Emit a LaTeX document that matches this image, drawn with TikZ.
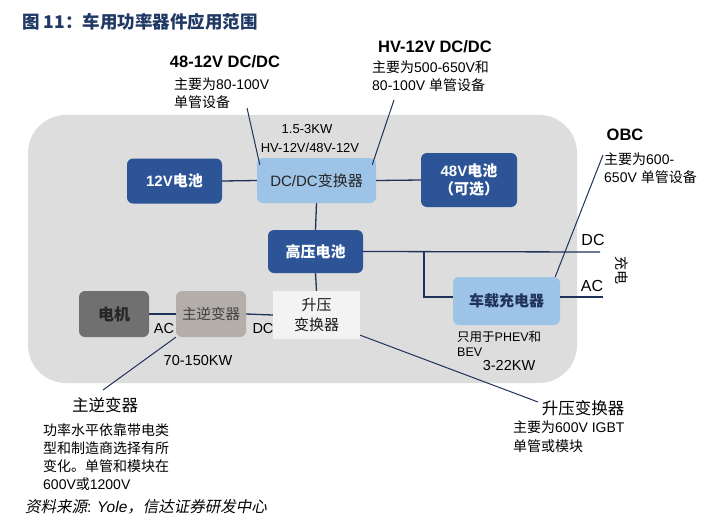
\documentclass[tikz,border=0pt]{standalone}
\usepackage{fontspec}
\setmainfont{Liberation Sans}
\newfontfamily\cjk{Noto Sans CJK SC}
\newfontfamily\cjkit{Noto Sans CJK SC}[FakeSlant=0.2]
\newcommand{\zh}[1]{{\cjk #1}}
\usetikzlibrary{calc}

\definecolor{boxblue}{RGB}{44,84,150}
\definecolor{lightblue}{RGB}{157,195,230}
\definecolor{bggray}{RGB}{221,221,221}
\definecolor{motorgray}{RGB}{112,112,112}
\definecolor{invgray}{RGB}{180,174,170}
\definecolor{boostwhite}{RGB}{243,243,243}
\definecolor{linecol}{RGB}{31,50,90}
\definecolor{titleblue}{RGB}{31,56,100}

\begin{document}
\begin{tikzpicture}[x=1pt, y=-1pt,
      conn/.style={draw=linecol, line width=1.3pt},
      note/.style={draw=linecol, line width=1pt},
      darkbox/.style={rectangle, rounded corners=6pt, fill=boxblue, text=white, align=center, inner sep=0pt, font=\fontsize{15}{18}\selectfont\bfseries},
      lightbox/.style={rectangle, rounded corners=6pt, fill=lightblue, text=black!85, align=center, inner sep=0pt, font=\fontsize{15}{18}\selectfont},
      body/.style={inner sep=0pt, align=left, anchor=north west, font=\fontsize{14}{18}\selectfont},
      head/.style={inner sep=0pt, font=\fontsize{16.5}{19}\selectfont\bfseries},
      lbl/.style={inner sep=0pt, font=\fontsize{14.5}{17}\selectfont}]

      \useasboundingbox (0,0) rectangle (718,523);
      \fill[white] (0,0) rectangle (718,523);

      % title
      \node[anchor=west, inner sep=0pt, text=titleblue, font=\fontsize{17.5}{20}\selectfont\bfseries\cjk] (title) at (22,22) {图 11：车用功率器件应用范围};

      % gray panel
      \fill[bggray, rounded corners=38pt] (28,115) rectangle (577,383);

      % blocks
      \node[darkbox, minimum width=95pt, minimum height=45pt] (bat12) at (174.5,181) {12V\zh{电池}};
      \node[lightbox, minimum width=119pt, minimum height=45pt] (dcdc) at (316.5,180.5) {DC/DC\zh{变换器}};
      \node[darkbox, minimum width=96pt, minimum height=54pt] (bat48) at (469,180) {48V\zh{电池}\\\zh{（可选）}};
      \node[darkbox, minimum width=95pt, minimum height=43pt] (hvbat) at (315.5,251.5) {\zh{高压电池}};
      \node[lightbox, minimum width=107pt, minimum height=48pt, text=linecol, font=\fontsize{15}{18}\selectfont\bfseries] (obc) at (506.5,301) {\zh{车载充电器}};
      \node[rectangle, rounded corners=6pt, fill=motorgray, text=black!85, inner sep=0pt, minimum width=70pt, minimum height=46pt, font=\fontsize{16}{18}\selectfont\bfseries] (motor) at (114,314) {\zh{电机}};
      \node[rectangle, rounded corners=6pt, fill=invgray, text=black!75, inner sep=0pt, minimum width=70pt, minimum height=46pt, font=\fontsize{14.5}{18}\selectfont] (inv) at (211,314) {\zh{主逆变器}};
      \node[rectangle, fill=boostwhite, text=black!90, align=center, inner sep=0pt, minimum width=87pt, minimum height=48pt, font=\fontsize{15}{20}\selectfont] (boost) at (316.5,315) {\zh{升压}\\\zh{变换器}};

      % connectors
      \draw[conn] (bat12.east) -- (dcdc.west);
      \draw[conn] (dcdc.east) -- (bat48.west);
      \draw[conn] (dcdc.south) -- (hvbat.north);
      \draw[conn] (hvbat.south) -- (boost.north);
      \draw[conn] (motor.east) -- (inv.west);
      \draw[conn] (inv.east) -- (boost.west);
      \coordinate (dcend) at (600,252);
      \coordinate (split) at (424,252);
      \coordinate (acend) at (603,297);
      \draw[conn] (hvbat.east) -- (dcend);
      \draw[conn] (split) |- ([yshift=4pt]obc.west);
      \draw[conn] ([yshift=4pt]obc.east) -- (acend);

      % labels on the panel
      \node[lbl, font=\fontsize{13}{15}\selectfont] (kw1) at (307,129) {1.5-3KW};
      \node[lbl, font=\fontsize{13}{15}\selectfont] (kwtype) at (310,148) {HV-12V/48V-12V};
      \node[lbl] (ac1) at (164,329) {AC};
      \node[lbl] (dc1) at (263,329) {DC};
      \node[lbl] (kw2) at (198,361) {70-150KW};
      \node[lbl, font=\fontsize{16}{18}\selectfont] (dc2) at (593,240) {DC};
      \node[lbl, font=\fontsize{16}{18}\selectfont] (ac2) at (592,286) {AC};
      \node[lbl, rotate=-90, font=\fontsize{14}{16}\selectfont] (charge) at (622,270) {\zh{充电}};
      \node[body, font=\fontsize{12.5}{15}\selectfont] (obcuse) at (457,331) {\zh{只用于}PHEV\zh{和}\\BEV};
      \node[lbl] (kw3) at (509,366) {3-22KW};

      % annotations
      \node[head] (h4812) at (225,62) {48-12V DC/DC};
      \node[body] (t4812) at (174,78) {\zh{主要为}80-100V\\\zh{单管设备}};
      \node[head] (hhv) at (435,47) {HV-12V DC/DC};
      \node[body] (thv) at (372,61) {\zh{主要为}500-650V\zh{和}\\80-100V \zh{单管设备}};
      \node[head] (hobc) at (625,135) {OBC};
      \node[body] (tobc) at (604,153) {\zh{主要为}600-\\650V \zh{单管设备}};
      \node[lbl, font=\fontsize{16.5}{19}\selectfont\cjk] (hinv) at (105,405) {主逆变器};
      \node[body] (tinv) at (43,423) {\zh{功率水平依靠带电类}\\\zh{型和制造商选择有所}\\\zh{变化。单管和模块在}\\600V\zh{或}1200V};
      \node[lbl, font=\fontsize{16.5}{19}\selectfont\cjk] (hboost) at (583,408) {升压变换器};
      \node[body, font=\fontsize{14}{19}\selectfont] (tboost) at (513,421) {\zh{主要为}600V IGBT\\\zh{单管或模块}};

      \coordinate (n4812) at (247,108);
      \coordinate (nhv) at (394,100);
      \coordinate (nobc) at (603,155);
      \coordinate (ninv) at (103,390);
      \coordinate (nboost) at (538,402);
      \draw[note] (n4812) -- ($(dcdc.north west)+(3,7)$);
      \draw[note] (nhv) -- ($(dcdc.north east)+(-4,7)$);
      \draw[note] (nobc) -- ($(obc.north east)+(-5,0)$);
      \draw[note] (inv.south west) -- (ninv);
      \draw[note] ($(boost.south east)+(0,-4)$) -- (nboost);

      % source
      \node[anchor=west, inner sep=0pt, font=\fontsize{15.5}{18}\selectfont] (src) at (25,507) {{\cjkit 资料来源}: \textit{Yole}{\cjkit ，信达证券研发中心}};
    \end{tikzpicture}
\end{document}
